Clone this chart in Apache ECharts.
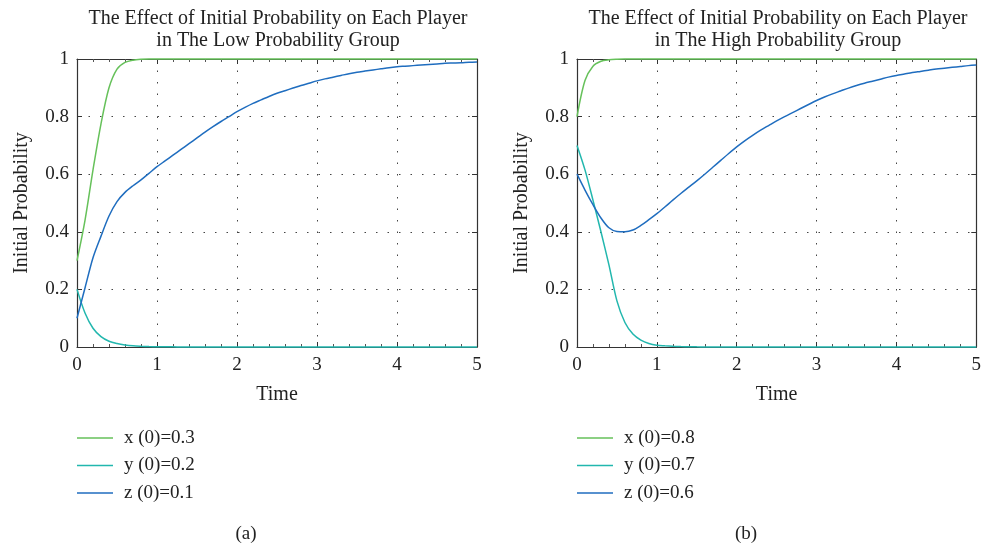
<!DOCTYPE html>
<html>
<head>
<meta charset="utf-8">
<script src="https://cdn.jsdelivr.net/npm/echarts@6/dist/echarts.min.js"></script>
<style>
html,body{margin:0;padding:0;background:#fff;}
#chart{width:984px;height:547px;}
</style>
</head>
<body>
<div id="chart"></div>
<script>
// ---- data ----
const T = [0,0.1,0.2,0.3,0.4,0.5,0.6,0.7,0.8,0.9,
           1.0,1.1,1.2,1.3,1.4,1.5,1.6,1.7,1.8,1.9,
           2.0,2.1,2.2,2.3,2.4,2.5,2.6,2.7,2.8,2.9,
           3.0,3.1,3.2,3.3,3.4,3.5,3.6,3.7,3.8,3.9,
           4.0,4.1,4.2,4.3,4.4,4.5,4.6,4.7,4.8,4.9,5.0];
// (a) low probability group
const xA = [0.3,0.44,0.615,0.775,0.9,0.965,0.988,0.996,0.999,1,
            1,1,1,1,1,1,1,1,1,1, 1,1,1,1,1,1,1,1,1,1,
            1,1,1,1,1,1,1,1,1,1, 1,1,1,1,1,1,1,1,1,1,1];
const yA = [0.2,0.118,0.065,0.036,0.02,0.012,0.007,0.004,0.0025,0.0015,
            0.001,0.0007,0.0005,0.0003,0.0002,0.0001,0,0,0,0,
            0,0,0,0,0,0,0,0,0,0, 0,0,0,0,0,0,0,0,0,0, 0,0,0,0,0,0,0,0,0,0,0];
const zA = [0.1,0.205,0.31,0.385,0.455,0.505,0.537,0.56,0.58,0.603,
            0.626,0.646,0.666,0.686,0.706,0.726,0.746,0.765,0.783,0.8,
            0.817,0.832,0.846,0.858,0.87,0.881,0.89,0.899,0.908,0.916,
            0.924,0.931,0.937,0.943,0.949,0.954,0.958,0.962,0.966,0.97,
            0.973,0.975,0.977,0.979,0.981,0.983,0.985,0.986,0.987,0.989,0.99];
// (b) high probability group
const xB = [0.8,0.925,0.975,0.992,0.997,0.999,1,1,1,1,
            1,1,1,1,1,1,1,1,1,1, 1,1,1,1,1,1,1,1,1,1,
            1,1,1,1,1,1,1,1,1,1, 1,1,1,1,1,1,1,1,1,1,1];
const yB = [0.7,0.615,0.51,0.4,0.285,0.16,0.085,0.045,0.024,0.012,
            0.006,0.004,0.0025,0.0015,0.001,0.0005,0.0003,0.0002,0.0001,0,
            0,0,0,0,0,0,0,0,0,0, 0,0,0,0,0,0,0,0,0,0, 0,0,0,0,0,0,0,0,0,0,0];
const zB = [0.6,0.545,0.494,0.448,0.414,0.401,0.4,0.406,0.422,0.442,
            0.463,0.486,0.51,0.533,0.555,0.577,0.6,0.624,0.648,0.672,
            0.695,0.716,0.735,0.753,0.769,0.785,0.8,0.814,0.828,0.842,
            0.856,0.868,0.879,0.889,0.899,0.908,0.916,0.923,0.93,0.937,
            0.943,0.948,0.953,0.957,0.961,0.965,0.968,0.971,0.974,0.977,0.979];

const namesA = ['x (0)=0.3','y (0)=0.2','z (0)=0.1'];
const namesB = ['x (0)=0.8','y (0)=0.7','z (0)=0.6'];
const titles = ['The Effect of Initial Probability on Each Player\nin The Low Probability Group',
                'The Effect of Initial Probability on Each Player\nin The High Probability Group'];
const panelLabels = ['(a)','(b)'];
const xName = 'Time';
const yName = 'Initial Probability';

// ---- styling ----
const FONT = '"Liberation Serif","DejaVu Serif",serif';
const TXT = '#222';
const COLORS = ['#66c15a','#22b7ae','#1f6dbf'];
const gridLefts = [77, 577];

const zip = (t, v) => t.map((ti, i) => [ti, v[i]]);

const grids = gridLefts.map(l => ({left:l, top:59, width:400, height:288, show:false}));

const xAxes = [], yAxes = [];
gridLefts.forEach((l, g) => {
  xAxes.push({
    type:'value', gridIndex:g, min:0, max:5, interval:1, position:'bottom',
    name:xName, nameLocation:'middle', nameGap:38,
    nameTextStyle:{fontFamily:FONT, fontSize:20, color:TXT},
    axisLine:{show:true, onZero:false, lineStyle:{color:'#333', width:1.2}},
    axisTick:{show:true, inside:true, length:5, lineStyle:{color:'#333'}},
    minorTick:{show:true, splitNumber:5, length:3, lineStyle:{color:'#555'}},
    axisLabel:{fontFamily:FONT, fontSize:19, color:TXT, margin:9, formatter: v => String(v)},
    splitLine:{show:true, lineStyle:{color:'#444', type:[1.5,10], width:1}}
  });
  xAxes.push({
    type:'value', gridIndex:g, min:0, max:5, interval:1, position:'top',
    axisLine:{show:true, onZero:false, lineStyle:{color:'#333', width:1.2}},
    axisTick:{show:true, inside:true, length:5, lineStyle:{color:'#333'}},
    minorTick:{show:true, splitNumber:5, length:3, lineStyle:{color:'#555'}},
    axisLabel:{show:false}, splitLine:{show:false}
  });
  yAxes.push({
    type:'value', gridIndex:g, min:0, max:1, interval:0.2, position:'left',
    name:yName, nameLocation:'middle', nameGap:45, nameRotate:90,
    nameTextStyle:{fontFamily:FONT, fontSize:20, color:TXT},
    axisLine:{show:true, onZero:false, lineStyle:{color:'#333', width:1.2}},
    axisTick:{show:true, inside:true, length:5, lineStyle:{color:'#333'}},
    axisLabel:{fontFamily:FONT, fontSize:19, color:TXT, margin:8,
               formatter: v => (Math.abs(v) < 1e-9 ? '0' : (Math.abs(v-1) < 1e-9 ? '1' : v.toFixed(1)))},
    splitLine:{show:true, lineStyle:{color:'#444', type:[1.5,10], width:1}}
  });
  yAxes.push({
    type:'value', gridIndex:g, min:0, max:1, interval:0.2, position:'right',
    axisLine:{show:true, onZero:false, lineStyle:{color:'#333', width:1.2}},
    axisTick:{show:true, inside:true, length:5, lineStyle:{color:'#333'}},
    axisLabel:{show:false}, splitLine:{show:false}
  });
});

const seriesData = [[xA,yA,zA],[xB,yB,zB]];
const seriesNames = [namesA, namesB];
const series = [];
[0,1].forEach(g => {
  seriesData[g].forEach((vals, k) => {
    series.push({
      type:'line', name:seriesNames[g][k], xAxisIndex:g*2, yAxisIndex:g*2,
      data: zip(T, vals), showSymbol:false, symbol:'none',
      smooth:0.3, clip:false,
      lineStyle:{color:COLORS[k], width:1.5}, itemStyle:{color:COLORS[k]},
      z: 3 + k
    });
  });
});

const legends = [0,1].map(g => ({
  data: seriesNames[g], orient:'vertical', left: gridLefts[g], top: 428,
  padding:0,
  icon:'rect', itemWidth:36, itemHeight:1.5, itemGap:7.5,
  textStyle:{fontFamily:FONT, fontSize:19, lineHeight:20, color:TXT, padding:[0,0,0,6]},
  selectedMode:false
}));

const titleCfg = [];
[0,1].forEach(g => {
  titleCfg.push({
    text: titles[g], left: gridLefts[g] + 201, top: 8, textAlign:'center', padding:0,
    textStyle:{fontFamily:FONT, fontSize:20, fontWeight:'normal', color:TXT, lineHeight:22}
  });
  titleCfg.push({
    text: panelLabels[g], left: gridLefts[g] + 169, top: 525, textAlign:'center', padding:0,
    textStyle:{fontFamily:FONT, fontSize:19, fontWeight:'normal', color:TXT}
  });
});

const chart = echarts.init(document.getElementById('chart'), null, {renderer:'canvas'});
chart.setOption({
  animation:false,
  backgroundColor:'#fff',
  title: titleCfg,
  legend: legends,
  grid: grids,
  xAxis: xAxes,
  yAxis: yAxes,
  series: series
});
</script>
</body>
</html>
